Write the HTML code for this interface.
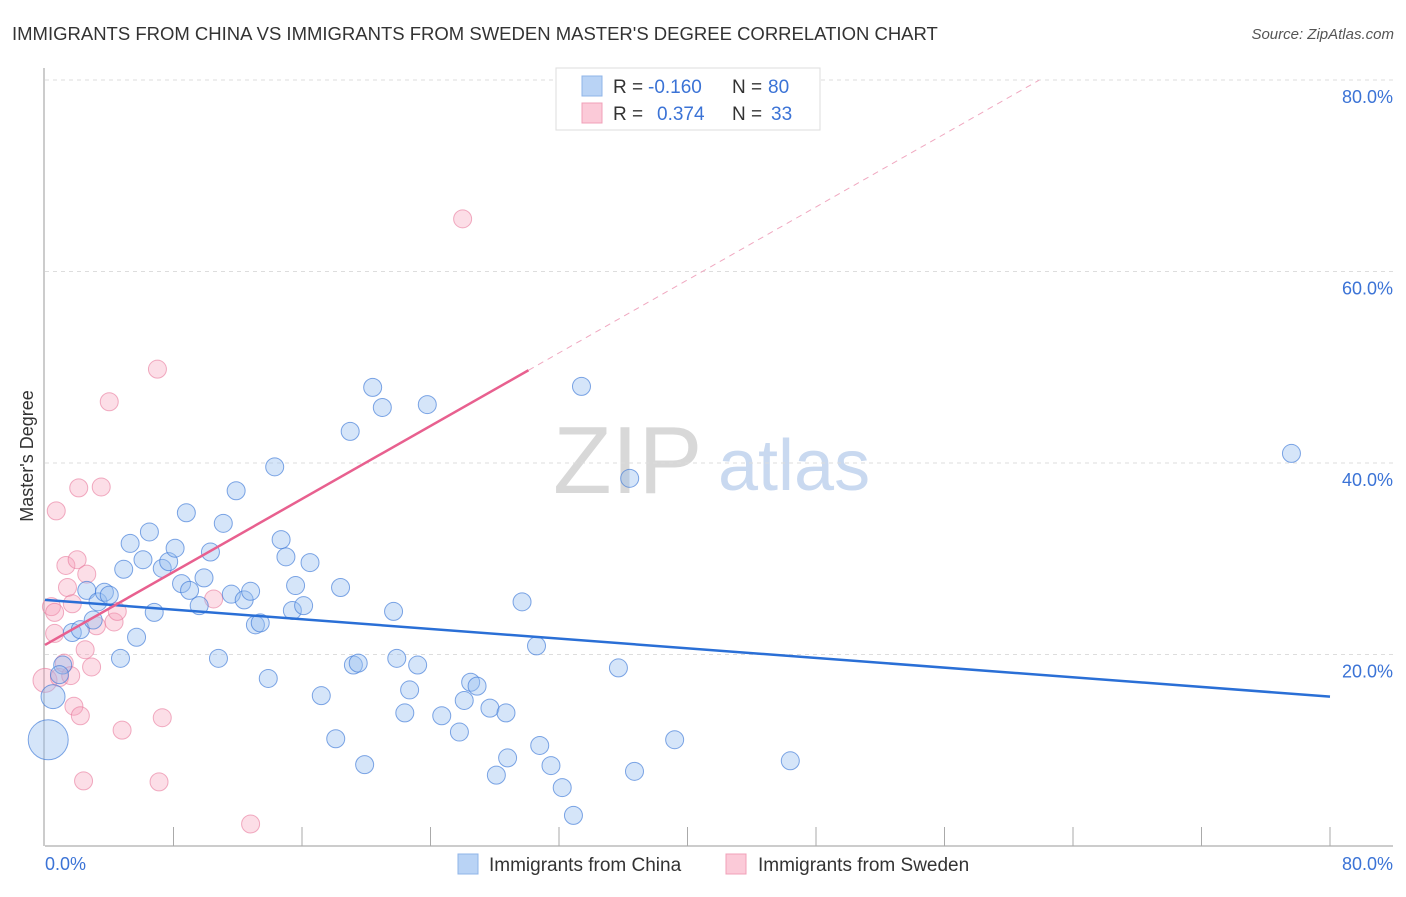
<!DOCTYPE html>
<html><head><meta charset="utf-8"><style>
body{margin:0;background:#fff;font-family:"Liberation Sans",sans-serif;}
svg text{font-family:"Liberation Sans",sans-serif;}
</style></head><body>
<svg id="c" width="1406" height="892" xmlns="http://www.w3.org/2000/svg">
<text x="12" y="40" font-size="18.5" fill="#333">IMMIGRANTS FROM CHINA VS IMMIGRANTS FROM SWEDEN MASTER'S DEGREE CORRELATION CHART</text>
<text x="1394" y="39" font-size="15" fill="#555" font-style="italic" text-anchor="end">Source: ZipAtlas.com</text>
<text x="33" y="456" font-size="18" fill="#333" text-anchor="middle" transform="rotate(-90 33 456)">Master's Degree</text>
<g><text x="553" y="493" font-size="96" fill="#d8d8d8" font-family="Liberation Serif,serif">ZIP</text><text x="718" y="490" font-size="72" fill="#c9d9f0">atlas</text></g>
<g id="grid"></g><g id="pts"></g><g id="lines"></g>
<g>
<rect x="556" y="68" width="264" height="62" fill="#fff" stroke="#ddd"/>
<rect x="582" y="76" width="20" height="20" fill="#b9d3f5" stroke="#8fb4e8"/>
<rect x="582" y="103" width="20" height="20" fill="#fbcad8" stroke="#f0a0b8"/>
<text x="613" y="93" font-size="19" fill="#333">R = </text><text x="648" y="93" font-size="19" fill="#3b73d6">-0.160</text>
<text x="732" y="93" font-size="19" fill="#333">N = </text><text x="768" y="93" font-size="19" fill="#3b73d6">80</text>
<text x="613" y="120" font-size="19" fill="#333">R = </text><text x="657" y="120" font-size="19" fill="#3b73d6">0.374</text>
<text x="732" y="120" font-size="19" fill="#333">N = </text><text x="771" y="120" font-size="19" fill="#3b73d6">33</text>
</g>
<g>
<rect x="458" y="854" width="20" height="20" fill="#b9d3f5" stroke="#8fb4e8"/>
<text x="489" y="871" font-size="19" fill="#333">Immigrants from China</text>
<rect x="726" y="854" width="20" height="20" fill="#fbcad8" stroke="#f0a0b8"/>
<text x="758" y="871" font-size="19" fill="#333">Immigrants from Sweden</text>
</g>
</svg>
<script>
const chinaX=[0.2,0.5,1.1,0.9,1.7,2.2,2.6,3.0,3.3,3.7,4.0,4.7,4.9,5.3,5.7,6.1,6.5,6.8,7.3,7.7,8.1,8.5,8.8,9.0,9.6,9.9,10.3,10.8,11.1,11.6,11.9,12.4,12.8,13.1,13.4,13.9,14.3,14.7,15.0,15.4,15.6,16.1,16.5,17.2,18.1,18.4,19.0,19.2,19.5,19.9,20.4,21.0,21.7,21.9,22.4,22.7,23.2,23.8,24.7,25.8,26.1,26.5,26.9,27.7,28.1,28.7,28.8,29.7,30.6,30.8,31.5,32.2,32.9,33.4,35.7,36.4,36.7,39.2,46.4,77.6];
const chinaY=[11.1,15.6,18.9,17.9,22.3,22.6,26.7,23.6,25.5,26.5,26.2,19.6,28.9,31.6,21.8,29.9,32.8,24.4,29.0,29.7,31.1,27.4,34.8,26.7,25.1,28.0,30.7,19.6,33.7,26.3,37.1,25.7,26.6,23.1,23.3,17.5,39.6,32.0,30.2,24.6,27.2,25.1,29.6,15.7,11.2,27.0,43.3,18.9,19.1,8.5,47.9,45.8,24.5,19.6,13.9,16.3,18.9,46.1,13.6,11.9,15.2,17.1,16.7,14.4,7.4,13.9,9.2,25.5,20.9,10.5,8.4,6.1,3.2,48.0,18.6,38.4,7.8,11.1,8.9,41.0];
const chinaSize=[20,12,9,9,9,9,9,9,9,9,9,9,9,9,9,9,9,9,9,9,9,9,9,9,9,9,9,9,9,9,9,9,9,9,9,9,9,9,9,9,9,9,9,9,9,9,9,9,9,9,9,9,9,9,9,9,9,9,9,9,9,9,9,9,9,9,9,9,9,9,9,9,9,9,9,9,9,9,9,9];
const swedenX=[0.0,0.4,0.6,0.7,0.6,0.9,1.2,1.3,1.4,1.6,1.7,1.8,2.0,2.1,2.2,2.4,2.5,2.6,2.9,3.2,3.5,4.0,4.3,4.5,4.8,7.0,7.1,7.3,10.5,12.8,26.0];
const swedenY=[17.3,25.0,24.4,35.0,22.2,17.6,19.1,29.3,27.0,17.8,25.3,14.6,29.9,37.4,13.6,6.8,20.5,28.4,18.7,23.0,37.5,46.4,23.4,24.5,12.1,49.8,6.7,13.4,25.8,2.3,65.5];
const swedenSize=[12,9,9,9,9,9,9,9,9,9,9,9,9,9,9,9,9,9,9,9,9,9,9,9,9,9,9,9,9,9,9];
const yTicks=[20,40,60,80];
const yTickLabels=["20.0%","40.0%","60.0%","80.0%"];
const chinaLine=[25.7,15.6];   // y at x=0 and x=80
const swedenLine=[21.0,0.953]; // intercept, slope
const swedenSolidEnd=30.1;
const X=v=>45+v*16.0625, Y=v=>846-v*9.575;
const NS="http://www.w3.org/2000/svg";
function mk(tag,attrs,parent){const e=document.createElementNS(NS,tag);for(const k in attrs)e.setAttribute(k,attrs[k]);parent.appendChild(e);return e;}
const grid=document.getElementById('grid');
yTicks.forEach((t,i)=>{
  const l=mk('line',{x1:45,x2:1393,y1:Y(t),y2:Y(t),stroke:'#ddd','stroke-dasharray':'4,4'},grid);
  
  
  const tx=mk('text',{x:1393,y:Y(t)+23,'font-size':18,fill:'#3b73d6','text-anchor':'end'},grid);
  tx.textContent=yTickLabels[i];
  
  
});
const ax=mk('line',{x1:44,x2:44,y1:68,y2:846,stroke:'#999'},grid);


const bx=mk('line',{x1:45,x2:1393,y1:846,y2:846,stroke:'#999'},grid);


for(let i=1;i<=10;i++){
  const tk=mk('line',{x1:X(i*8),x2:X(i*8),y1:827,y2:846,stroke:'#aaa'},grid);
  
  
}
const xl=mk('text',{x:45,y:870,'font-size':18,fill:'#3b73d6'},grid);xl.textContent='0.0%';


const xr=mk('text',{x:1393,y:870,'font-size':18,fill:'#3b73d6','text-anchor':'end'},grid);xr.textContent='80.0%';


const pts=document.getElementById('pts');
swedenX.forEach((x,i)=>{
  const c=mk('circle',{cx:X(x),cy:Y(swedenY[i]),r:swedenSize[i],fill:'rgba(246,160,185,0.35)',stroke:'rgba(232,120,155,0.6)','stroke-width':1},pts);
  
  
});
chinaX.forEach((x,i)=>{
  const c=mk('circle',{cx:X(x),cy:Y(chinaY[i]),r:chinaSize[i],fill:'rgba(150,190,240,0.4)',stroke:'rgba(60,120,215,0.65)','stroke-width':1},pts);
  
  
});
const lines=document.getElementById('lines');
const cl=mk('line',{x1:X(0),y1:Y(chinaLine[0]),x2:X(80),y2:Y(chinaLine[1]),stroke:'#2a6fd6','stroke-width':2.5},lines);


const sy=x=>swedenLine[0]+swedenLine[1]*x;
const sl=mk('line',{x1:X(0),y1:Y(sy(0)),x2:X(swedenSolidEnd),y2:Y(sy(swedenSolidEnd)),stroke:'#e8608f','stroke-width':2.5},lines);


const xEnd=(80-swedenLine[0])/swedenLine[1];
const sd=mk('line',{x1:X(swedenSolidEnd),y1:Y(sy(swedenSolidEnd)),x2:X(xEnd),y2:Y(80),stroke:'#f0a8c0','stroke-width':1,'stroke-dasharray':'6,5'},lines);


</script>
</body></html>
